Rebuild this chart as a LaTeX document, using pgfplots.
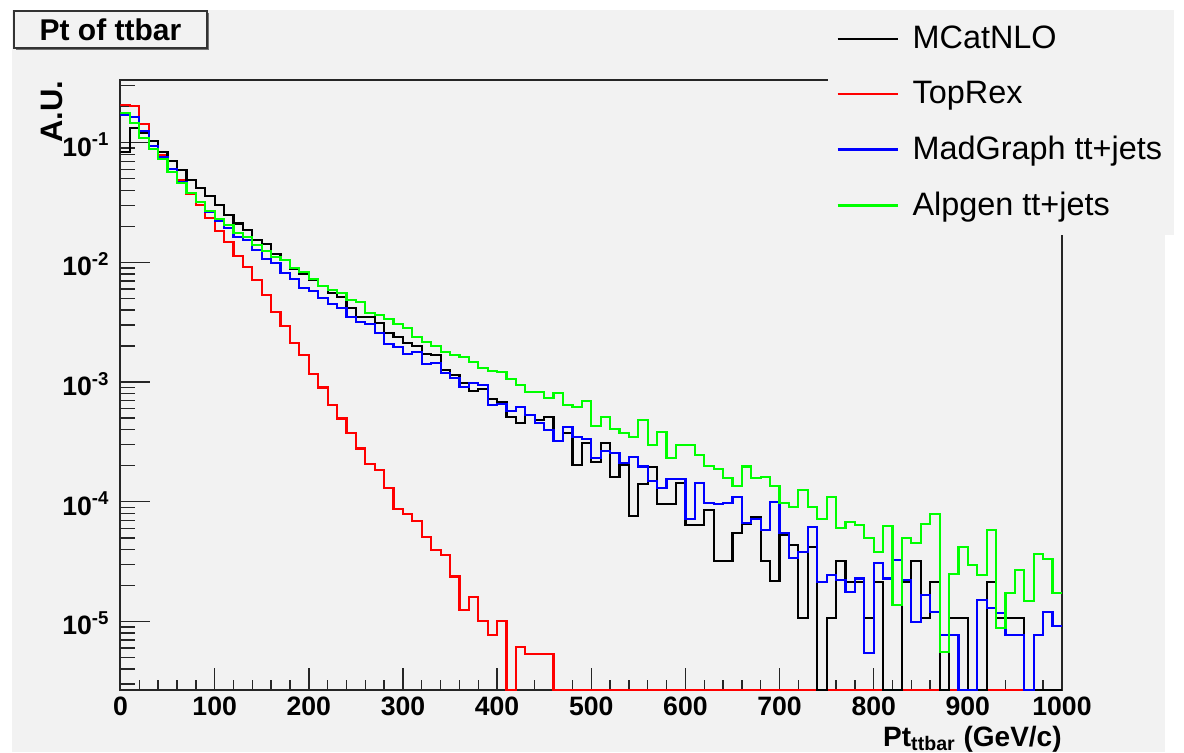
\documentclass[border=0pt]{standalone}
\usepackage{fontspec}
\setmainfont{Liberation Sans}
\usepackage{pgfplots}
\pgfplotsset{compat=1.18}
\definecolor{canvas}{RGB}{242,242,242}
\definecolor{rgreen}{RGB}{0,255,0}
\definecolor{rblue}{RGB}{0,0,255}
\definecolor{rred}{RGB}{255,0,0}
\begin{document}
\begin{tikzpicture}
\path[fill=white] (0,0) rectangle (592pt,376pt);
\fill[canvas] (6pt,0) rectangle (582.5pt,371pt);
\begin{axis}[
  at={(60.25pt,31pt)}, anchor=south west,
  scale only axis, width=470.75pt, height=305pt,
  xmin=0, xmax=1000, ymode=log, ymin=2.677e-6, ymax=0.334,
  xtick={0,100,200,300,400,500,600,700,800,900,1000},
  xticklabels={0,100,200,300,400,500,600,700,800,900,1000},
  minor x tick num=4,
  ytick={1e-5,1e-4,1e-3,1e-2,1e-1},
  yticklabels={10\textsuperscript{-5},10\textsuperscript{-4},10\textsuperscript{-3},10\textsuperscript{-2},10\textsuperscript{-1}},
  minor ytick={3e-6,4e-6,5e-6,6e-6,7e-6,8e-6,9e-6,
    2e-5,3e-5,4e-5,5e-5,6e-5,7e-5,8e-5,9e-5,
    2e-4,3e-4,4e-4,5e-4,6e-4,7e-4,8e-4,9e-4,
    2e-3,3e-3,4e-3,5e-3,6e-3,7e-3,8e-3,9e-3,
    2e-2,3e-2,4e-2,5e-2,6e-2,7e-2,8e-2,9e-2,
    2e-1,3e-1},
  tick pos=left, tick align=inside,
  xtick style={/pgfplots/major tick length=11pt,/pgfplots/minor tick length=5pt},
  ytick style={/pgfplots/major tick length=14.5pt,/pgfplots/minor tick length=7.25pt},
  tick style={black!85, line width=0.7pt},
  axis line style={line width=1pt, black!85},
  ticklabel style={font=\fontsize{13.3}{15}\selectfont\bfseries},
  yticklabel style={xshift=-2pt, yshift=-1pt},
  xlabel={Pt\textsubscript{ttbar} (GeV/c)},
  xlabel style={at={(axis description cs:1,-0.0929)}, anchor=base east, inner sep=0pt, font=\fontsize{14}{16}\selectfont\bfseries},
  ylabel={A.U.},
  ylabel style={at={(axis description cs:-0.0728,1)}, anchor=east, inner sep=0pt, font=\fontsize{15.5}{17}\selectfont\bfseries},
  legend style={at={(axis description cs:0.7515,1.1148)}, anchor=north west, draw=none, fill=canvas,
    font=\fontsize{16.2}{18}\selectfont, inner xsep=4pt, inner ysep=5.9pt, row sep=10.8pt, column sep=5pt,
    nodes={inner sep=2pt}},
  legend cell align=left,
  legend image code/.code={\draw[#1] (0pt,0pt) -- (30pt,0pt);},
  every axis plot/.append style={line width=1.1pt},
]
\addlegendimage{black, line width=1.1pt}\addlegendentry{MCatNLO}
\addlegendimage{rred, line width=1.1pt}\addlegendentry{TopRex}
\addlegendimage{rblue, line width=1.1pt}\addlegendentry{MadGraph tt+jets}
\addlegendimage{rgreen, line width=1.1pt}\addlegendentry{Alpgen tt+jets}

% TopRex
\addplot[rred, const plot, forget plot] coordinates {
(0,0.2065) (10,0.2028) (20,0.1426) (30,0.1040) (40,0.0789) (50,0.0600) (60,0.0484) (70,0.0372) (80,0.0302) (90,0.02333)
(100,0.01841) (110,0.01472) (120,0.01130) (130,0.00920) (140,0.00713) (150,0.00535) (160,0.00387) (170,0.00296) (180,0.00211) (190,0.00168)
(200,0.00117) (210,9.02e-4) (220,6.43e-4) (230,4.97e-4) (240,3.76e-4) (250,2.79e-4) (260,2.08e-4) (270,1.83e-4) (280,1.30e-4) (290,8.65e-5)
(300,7.96e-5) (310,6.90e-5) (320,5.08e-5) (330,3.94e-5) (340,3.57e-5) (350,2.38e-5) (360,1.24e-5) (370,1.60e-5) (380,1.01e-5) (390,7.66e-6)
(400,1.01e-5) (410,2.677e-6) (420,6.11e-6) (430,5.31e-6) (440,5.31e-6) (450,5.31e-6) (460,2.677e-6) (1000,2.677e-6)
};
% MCatNLO
\addplot[black, const plot, forget plot] coordinates {
(0,0.0841) (10,0.1318) (20,0.1199) (30,0.1040) (40,0.0841) (50,0.0708) (60,0.0592) (70,0.0491) (80,0.0416) (90,0.0356)
(100,0.0302) (110,0.0247) (120,0.0211) (130,0.01875) (140,0.01538) (150,0.01435) (160,0.01172) (170,0.0104) (180,0.00879) (190,0.00804)
(200,0.00713) (210,0.00637) (220,0.00552) (230,0.00517) (240,0.00413) (250,0.00352) (260,0.00352) (270,0.00310) (280,0.00259) (290,0.00237)
(300,0.002135) (310,0.002015) (320,0.001717) (330,0.001683) (340,0.001262) (350,0.001146) (360,9.89e-4) (370,8.48e-4) (380,8.70e-4) (390,7.18e-4)
(400,6.86e-4) (410,5.14e-4) (420,4.58e-4) (430,5.31e-4) (440,4.82e-4) (450,5.08e-4) (460,3.24e-4) (470,3.78e-4) (480,2.03e-4) (490,3.12e-4)
(500,2.16e-4) (510,3.12e-4) (520,1.60e-4) (530,2.03e-4) (540,7.61e-5) (550,1.41e-4) (560,1.94e-4) (570,9.58e-5) (580,9.58e-5) (590,1.445e-4)
(600,6.40e-5) (610,6.40e-5) (620,8.54e-5) (630,3.22e-5) (640,3.22e-5) (650,5.45e-5) (660,6.52e-5) (670,7.51e-5) (680,3.22e-5) (690,2.19e-5)
(700,5.28e-5) (710,4.36e-5) (720,1.07e-5) (730,4.22e-5) (740,2.677e-6) (750,1.07e-5) (760,3.22e-5) (770,2.15e-5) (780,2.15e-5) (790,1.07e-5)
(800,2.15e-5) (810,2.677e-6) (820,2.677e-6) (830,2.15e-5) (840,3.2e-5) (850,1.07e-5) (860,2.15e-5) (870,2.677e-6) (880,1.07e-5) (890,1.07e-5)
(900,2.677e-6) (910,2.677e-6) (920,2.15e-5) (930,1.07e-5) (940,1.07e-5) (950,1.07e-5) (960,2.677e-6) (1000,2.677e-6)
};
% MadGraph
\addplot[rblue, const plot, forget plot] coordinates {
(0,0.1702) (10,0.1648) (20,0.1259) (30,0.0938) (40,0.0755) (50,0.0603) (60,0.0468) (70,0.0380) (80,0.0321) (90,0.02655)
(100,0.02234) (110,0.01928) (120,0.01641) (130,0.01538) (140,0.01271) (150,0.01067) (160,0.00982) (170,0.00820) (180,0.00726) (190,0.00607)
(200,0.00577) (210,0.00501) (220,0.00449) (230,0.00413) (240,0.003476) (250,0.003197) (260,0.003057) (270,0.002555) (280,0.00208) (290,0.001977)
(300,0.001717) (310,0.001795) (320,0.001416) (330,0.001453) (340,0.001199) (350,0.001075) (360,9.16e-4) (370,9.76e-4) (380,9.46e-4) (390,6.44e-4)
(400,6.56e-4) (410,5.77e-4) (420,6.23e-4) (430,5.31e-4) (440,4.52e-4) (450,3.98e-4) (460,3.24e-4) (470,4.19e-4) (480,3.46e-4) (490,3.33e-4)
(500,2.31e-4) (510,2.675e-4) (520,2.57e-4) (530,2.10e-4) (540,2.35e-4) (550,1.97e-4) (560,1.50e-4) (570,1.296e-4) (580,1.54e-4) (590,1.54e-4)
(600,7.14e-5) (610,1.445e-4) (620,9.83e-5) (630,9.58e-5) (640,9.83e-5) (650,1.10e-4) (660,6.69e-5) (670,7.14e-5) (680,5.81e-5) (690,1.00e-4)
(700,5.52e-5) (710,3.37e-5) (720,3.83e-5) (730,6.20e-5) (740,2.15e-5) (750,2.445e-5) (760,2.22e-5) (770,1.775e-5) (780,2.29e-5) (790,5.49e-6)
(800,3.06e-5) (810,2.29e-5) (820,3.27e-5) (830,2.22e-5) (840,9.97e-6) (850,1.665e-5) (860,1.208e-5) (870,7.71e-6) (880,7.71e-6) (890,2.677e-6)
(900,2.677e-6) (910,1.512e-5) (920,1.288e-5) (930,1.17e-5) (940,7.71e-6) (950,7.71e-6) (960,2.677e-6) (970,7.71e-6) (980,1.208e-5) (990,9.17e-6)
(1000,9.17e-6)
};
% Alpgen
\addplot[rgreen, const plot, forget plot] coordinates {
(0,0.1782) (10,0.1452) (20,0.1089) (30,0.0881) (40,0.0735) (50,0.0573) (60,0.0457) (70,0.0378) (80,0.0321) (90,0.02704)
(100,0.02291) (110,0.02051) (120,0.01770) (130,0.01641) (140,0.01396) (150,0.01253) (160,0.01102) (170,0.01047) (180,0.00891) (190,0.00837)
(200,0.00723) (210,0.00635) (220,0.00587) (230,0.005514) (240,0.004853) (250,0.004699) (260,0.003754) (270,0.003636) (280,0.003345) (290,0.003057)
(300,0.002813) (310,0.002366) (320,0.002177) (330,0.002002) (340,0.001795) (350,0.001684) (360,0.00161) (370,0.001462) (380,0.001303) (390,0.001246)
(400,0.001222) (410,0.001054) (420,9.46e-4) (430,8.32e-4) (440,8.32e-4) (450,7.32e-4) (460,8.05e-4) (470,6.44e-4) (480,6.23e-4) (490,6.99e-4)
(500,4.30e-4) (510,5.08e-4) (520,4.03e-4) (530,3.73e-4) (540,3.46e-4) (550,4.82e-4) (560,2.98e-4) (570,3.85e-4) (580,2.31e-4) (590,2.98e-4)
(600,2.98e-4) (610,2.46e-4) (620,1.99e-4) (630,1.87e-4) (640,1.57e-4) (650,1.355e-4) (660,1.97e-4) (670,1.59e-4) (680,1.62e-4) (690,1.355e-4)
(700,9.83e-5) (710,9.11e-5) (720,1.255e-4) (730,9.11e-5) (740,7.14e-5) (750,1.10e-4) (760,6.0e-5) (770,6.82e-5) (780,6.40e-5) (790,4.95e-5)
(800,3.83e-5) (810,6.28e-5) (820,1.373e-5) (830,4.95e-5) (840,4.50e-5) (850,6.52e-5) (860,7.86e-5) (870,5.60e-6) (880,2.49e-5) (890,4.16e-5)
(900,2.965e-5) (910,2.445e-5) (920,5.81e-5) (930,8.77e-6) (940,1.72e-5) (950,2.69e-5) (960,1.493e-5) (970,3.66e-5) (980,3.31e-5) (990,1.74e-5)
(1000,1.74e-5)
};
\end{axis}
% title box
\fill[black!55] (8.2pt,350.8pt) rectangle (104.7pt,369.3pt);
\draw[fill=canvas, line width=0.6pt, draw=black!80] (7pt,352pt) rectangle (103.5pt,370.5pt);
\node[font=\fontsize{15}{17}\selectfont\bfseries, inner sep=0pt] at (55.25pt,361.1pt) {Pt of ttbar};
\end{tikzpicture}
\end{document}
